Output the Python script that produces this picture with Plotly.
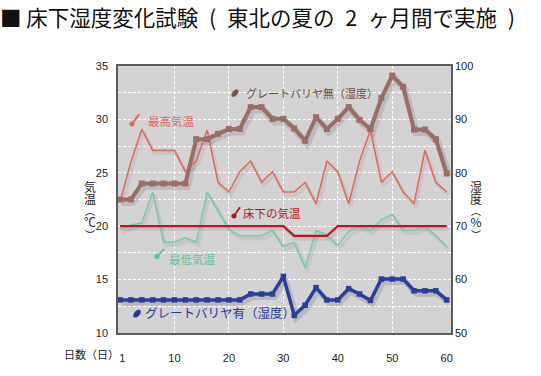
import math
import plotly.graph_objects as go

# ---------------- data ----------------
days = [0, 2, 4, 6, 8, 10, 12, 14, 16, 18, 20, 22, 24, 26, 28, 30,
        32, 34, 36, 38, 40, 42, 44, 46, 48, 50, 52, 54, 56, 58, 60]
hum_no_barrier = [75, 75, 78, 78, 78, 78, 78, 86.3, 86.3, 87.3, 88.2, 88.2, 92.3, 92.3, 90.1, 90.1,
                  88.3, 86.0, 90.4, 88.2, 90.1, 92.3, 89.9, 88.2, 94.0, 98.2, 96.1, 88.1, 88.1, 86.3, 79.9]
hum_barrier = [56.2, 56.2, 56.2, 56.2, 56.2, 56.2, 56.2, 56.2, 56.2, 56.2, 56.2, 56.2, 57.3, 57.3, 57.3, 60.6,
               53.3, 55.2, 58.5, 56.2, 56.2, 58.3, 57.3, 56.1, 60.1, 60.1, 60.1, 57.9, 57.9, 57.9, 56.2]
max_temp = [22.3, 26.0, 29.1, 27.1, 27.1, 27.1, 25.1, 26.1, 29.0, 24.1, 23.2, 25.1, 26.1, 24.1, 25.1, 23.2,
            23.2, 24.1, 22.1, 26.1, 25.1, 22.1, 26.1, 29.0, 24.1, 25.1, 23.2, 22.1, 27.1, 24.1, 23.2]
min_temp = [19.7, 20.1, 20.3, 23.2, 18.5, 18.5, 18.9, 18.5, 23.2, 21.4, 19.7, 19.1, 19.1, 19.1, 19.6, 18.1,
            18.5, 16.1, 19.6, 19.2, 18.2, 19.5, 20.0, 19.6, 20.6, 21.1, 19.6, 19.6, 20.0, 19.1, 18.1]
underfloor_temp = [20, 20, 20, 20, 20, 20, 20, 20, 20, 20, 20, 20, 20, 20, 20, 20,
                   19.1, 19.1, 19.1, 19.1, 20, 20, 20, 20, 20, 20, 20, 20, 20, 20, 20]

x_tickvals = [0.4, 10, 20, 30, 40, 50, 60]
x_ticktext = ["1", "10", "20", "30", "40", "50", "60"]
temp_ticks = [10, 15, 20, 25, 30, 35]
hum_ticks = [50, 60, 70, 80, 90, 100]

# ---------------- geometry ----------------
W, H = 541, 376
L, R, T, B = 118, 90, 66, 34
PW = W - L - R
PH = H - T - B

def fx(px):
    return (px - L) / PW

def fy(py):
    return (H - B - py) / PH

XR = [-0.37, 60.79]
TR = [10, 35]
HR = [50, 100]
# shadow offsets (pixels)
SDX, SDY = 2.0, 3.0
x_per_px = (XR[1] - XR[0]) / PW
XR_sh = [XR[0] - SDX * x_per_px, XR[1] - SDX * x_per_px]
TR_sh = [TR[0] + SDY * (TR[1] - TR[0]) / PH, TR[1] + SDY * (TR[1] - TR[0]) / PH]
HR_sh = [HR[0] + SDY * (HR[1] - HR[0]) / PH, HR[1] + SDY * (HR[1] - HR[0]) / PH]

BROWN = "#9b6d67"
SALMON = "#e2695c"
GREEN = "#72cdaa"
DARKRED = "#c2141e"
BLUE = "#283f9c"
JP = "Noto Sans CJK JP"
NUM = "Liberation Sans"

fig = go.Figure()

# shadows
fig.add_trace(go.Scatter(x=days, y=hum_no_barrier, xaxis="x", yaxis="y2", mode="lines",
                         line=dict(color="rgba(60,40,40,0.14)", width=7), hoverinfo="skip", showlegend=False))
fig.add_trace(go.Scatter(x=days, y=hum_barrier, xaxis="x", yaxis="y2", mode="lines",
                         line=dict(color="rgba(20,20,60,0.14)", width=6), hoverinfo="skip", showlegend=False))
fig.add_trace(go.Scatter(x=days, y=max_temp, xaxis="x", yaxis="y", mode="lines",
                         line=dict(color="rgba(0,0,0,0.06)", width=3.5), hoverinfo="skip", showlegend=False))
fig.add_trace(go.Scatter(x=days, y=min_temp, xaxis="x", yaxis="y", mode="lines",
                         line=dict(color="rgba(0,0,0,0.06)", width=3.5), hoverinfo="skip", showlegend=False))
fig.add_trace(go.Scatter(x=days, y=underfloor_temp, xaxis="x", yaxis="y", mode="lines",
                         line=dict(color="rgba(0,0,0,0.07)", width=4), hoverinfo="skip", showlegend=False))

# main lines
fig.add_trace(go.Scatter(x=days, y=max_temp, xaxis="x2", yaxis="y3", mode="lines",
                         line=dict(color=SALMON, width=1.6), name="最高気温", showlegend=False))
fig.add_trace(go.Scatter(x=days, y=min_temp, xaxis="x2", yaxis="y3", mode="lines",
                         line=dict(color=GREEN, width=1.6), name="最低気温", showlegend=False))
fig.add_trace(go.Scatter(x=days, y=underfloor_temp, xaxis="x2", yaxis="y3", mode="lines",
                         line=dict(color=DARKRED, width=2.2), name="床下の気温", showlegend=False))
fig.add_trace(go.Scatter(x=days, y=hum_no_barrier, xaxis="x2", yaxis="y4", mode="lines+markers",
                         line=dict(color=BROWN, width=4),
                         marker=dict(symbol="square", size=6, color=BROWN),
                         name="グレートバリヤ無（湿度）", showlegend=False))
fig.add_trace(go.Scatter(x=days, y=hum_barrier, xaxis="x2", yaxis="y4", mode="lines+markers",
                         line=dict(color=BLUE, width=3.5),
                         marker=dict(symbol="square", size=5.5, color=BLUE),
                         name="グレートバリヤ有（湿度）", showlegend=False))

GD = "3px,2px"

fig.update_layout(
    width=W, height=H,
    margin=dict(l=L, r=R, t=T, b=B, pad=0),
    paper_bgcolor="white",
    plot_bgcolor="#d3d3d3",
    showlegend=False,
    xaxis=dict(range=XR_sh, visible=False, showgrid=False, zeroline=False),
    yaxis=dict(range=TR_sh, visible=False, showgrid=False, zeroline=False),
    yaxis2=dict(range=HR_sh, visible=False, showgrid=False, zeroline=False, overlaying="y"),
    xaxis2=dict(range=XR, overlaying="x", anchor="y", side="bottom",
                tickmode="array", tickvals=x_tickvals, ticktext=x_ticktext,
                showgrid=False, zeroline=False, ticks="",
                showline=True, mirror=True, linecolor="#5c5c5c", linewidth=1.5,
                tickfont=dict(family=NUM, size=11, color="#222"),
                ticklabelstandoff=14,
                minor=dict(tickmode="array", tickvals=[10, 20, 30, 40, 50], showgrid=True,
                           gridcolor="white", gridwidth=1, griddash=GD, ticks="")),
    yaxis3=dict(range=TR, overlaying="y", anchor="x", side="left",
                tickmode="array", tickvals=temp_ticks,
                showgrid=True, gridcolor="white", gridwidth=1, griddash=GD,
                zeroline=False, ticks="",
                showline=True, mirror=True, linecolor="#5c5c5c", linewidth=1.5,
                tickfont=dict(family=NUM, size=11, color="#222"),
                ticklabelstandoff=6,
                minor=dict(tickmode="array", tickvals=[12.5, 17.5, 22.5, 27.5, 32.5], showgrid=True,
                           gridcolor="white", gridwidth=1, griddash=GD, ticks="")),
    yaxis4=dict(range=HR, overlaying="y", anchor="x", side="right",
                tickmode="array", tickvals=hum_ticks, showgrid=False, zeroline=False, ticks="",
                showline=False,
                tickfont=dict(family=NUM, size=11, color="#222"),
                ticklabelstandoff=3),
)

EN = "\u2002"
ann = []
# title
ann.append(dict(x=fx(-2), y=fy(15), xref="paper", yref="paper", xanchor="left", yanchor="middle",
                text="■ 床下湿度変化試験" + EN + "(" + EN + "東北の夏の" + EN + "2" + EN + "ヶ月間で実施" + EN + ")",
                showarrow=False, font=dict(family=JP, size=21.5, color="#111")))

# vertical axis titles
def vtitle(chars, big, cx, top):
    parts = []
    for c in chars:
        if c in ("︵", "︶"):
            parts.append(f"<span style='font-size:10px'>{c}</span>")
        else:
            parts.append(f"<span style='font-size:{big}px'>{c}</span>")
    return dict(x=fx(cx), y=fy(top), xref="paper", yref="paper", xanchor="center", yanchor="top",
                text="<br>".join(parts), showarrow=False, align="center",
                font=dict(family=JP, size=9, color="#222"))

ann.append(vtitle(["気", "温", "︵", "℃", "︶"], 12, 90, 180))
ann.append(vtitle(["湿", "度", "︵", "%", "︶"], 12, 476, 180))
ann.append(dict(x=fx(62), y=fy(364), xref="paper", yref="paper", xanchor="left", yanchor="middle",
                text="日数（日）", showarrow=False, font=dict(family=JP, size=11, color="#222")))

# series labels
labels = [
    ("グレートバリヤ無（湿度）", 244, 94, 11, "#6e4a44"),
    ("最高気温", 146, 123, 11.5, "#e0655a"),
    ("床下の気温", 241, 218, 11.5, "#b8121c"),
    ("最低気温", 167, 265, 11.5, "#5fc29c"),
    ("グレートバリヤ有（湿度）", 143, 321, 12.5, "#26399a"),
]
for txt, px, pyy, sz, col in labels:
    ann.append(dict(x=fx(px), y=fy(pyy), xref="paper", yref="paper", xanchor="left", yanchor="middle",
                    text=txt, showarrow=False, font=dict(family=JP, size=sz, color=col)))
fig.update_layout(annotations=ann)

shapes = []

def leaf(cx, cy, rx, ry, ang, col):
    pts = []
    a = math.radians(ang)
    for k in range(24):
        t = 2 * math.pi * k / 24
        ex, ey = rx * math.cos(t), ry * math.sin(t)
        px = cx + ex * math.cos(a) - ey * math.sin(a)
        py = cy + ex * math.sin(a) + ey * math.cos(a)
        pts.append((fx(px), fy(py)))
    path = "M " + " L ".join(f"{p[0]:.5f},{p[1]:.5f}" for p in pts) + " Z"
    return dict(type="path", xref="paper", yref="paper", path=path,
                fillcolor=col, line=dict(width=0), layer="above")

def thermo(x0, y0, x1, y1, col):
    r = 2.6
    return [dict(type="line", xref="paper", yref="paper", x0=fx(x0), y0=fy(y0), x1=fx(x1), y1=fy(y1),
                 line=dict(color=col, width=1.8), layer="above"),
            dict(type="circle", xref="paper", yref="paper", x0=fx(x1 - r), y0=fy(y1 + r),
                 x1=fx(x1 + r), y1=fy(y1 - r), fillcolor=col, line=dict(width=0), layer="above")]

shapes.append(leaf(235, 94, 2.6, 4.6, 40, "#7d524b"))
shapes.append(leaf(137, 322, 2.8, 4.8, 40, "#26399a"))
shapes += thermo(139, 116, 132, 126, "#e0655a")
shapes += thermo(240, 212, 234, 221, "#b8121c")
shapes += thermo(164, 255, 157, 263, "#5fc29c")
fig.update_layout(shapes=shapes)

fig.write_html("out.html", config={"displayModeBar": False},
               post_script="document.body.style.margin='0';document.body.style.overflow='hidden';")
